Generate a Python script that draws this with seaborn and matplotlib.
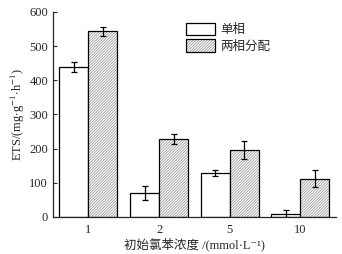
import numpy as np
import pandas as pd
import matplotlib
matplotlib.use("Agg")
import matplotlib.pyplot as plt
from matplotlib.colors import to_rgba
import seaborn as sns

# initial chlorobenzene concentration groups
conc = ["1", "2", "5", "10"]
single = [439, 70, 128, 9]          # 单相
single_err = [15, 20, 8, 10]
twophase = [543, 228, 196, 112]     # 两相分配
twophase_err = [12, 14, 27, 25]
modes = ["单相", "两相分配"]

df = pd.DataFrame({
    "conc": conc * 2,
    "ets": single + twophase,
    "mode": [modes[0]] * 4 + [modes[1]] * 4,
})

sns.set_style("ticks")
plt.rcParams['font.family'] = ['Liberation Serif', 'Noto Sans CJK SC', 'DejaVu Sans']
plt.rcParams['mathtext.fontset'] = 'stix'
plt.rcParams['hatch.linewidth'] = 0.5

fig = plt.figure(figsize=(3.42, 2.54), dpi=100)
ax = fig.add_axes([0.155, 0.146, 0.827, 0.807])

sns.barplot(data=df, x="conc", y="ets", hue="mode", order=conc,
            palette=["white", "white"], edgecolor="black", linewidth=0.9,
            width=0.82, gap=0, errorbar=None, legend=False, ax=ax)

# hatch second series and add error bars
bar_groups = list(ax.containers)
for i, cont in enumerate(bar_groups):
    errs = single_err if i == 0 else twophase_err
    xs, ys = [], []
    for bar in cont:
        if i == 1:
            bar.set_hatch("////////////")
            bar._hatch_color = to_rgba("#8c8c8c")
        xs.append(bar.get_x() + bar.get_width() / 2)
        ys.append(bar.get_height())
    ax.errorbar(xs, ys, yerr=errs, fmt="none", ecolor="black",
                elinewidth=0.9, capsize=2.5, capthick=0.9)

ax.set_xlim(-0.5, 3.5)
ax.set_ylim(0, 600)
ax.set_yticks([0, 100, 200, 300, 400, 500, 600])
ax.tick_params(axis="y", direction="in", length=3, labelsize=9, width=0.8)
ax.tick_params(axis="x", length=0, labelsize=9, pad=5)
sns.despine(ax=ax)
for s in ["left", "bottom"]:
    ax.spines[s].set_linewidth(0.9)

ax.set_ylabel(r"ETS/(mg$\cdot$g$^{-1}$$\cdot$h$^{-1}$)", fontsize=9, labelpad=2)
ax.set_xlabel("初始氯苯浓度 /(mmol·L⁻¹)", fontsize=9, labelpad=1)

ax.legend(bar_groups, modes, loc="upper left", bbox_to_anchor=(0.44, 0.99),
          frameon=False, fontsize=9, handlelength=2.3, handleheight=1.15,
          labelspacing=0.25, handletextpad=0.45, borderpad=0.2)

fig.savefig("out.png", dpi=100)
